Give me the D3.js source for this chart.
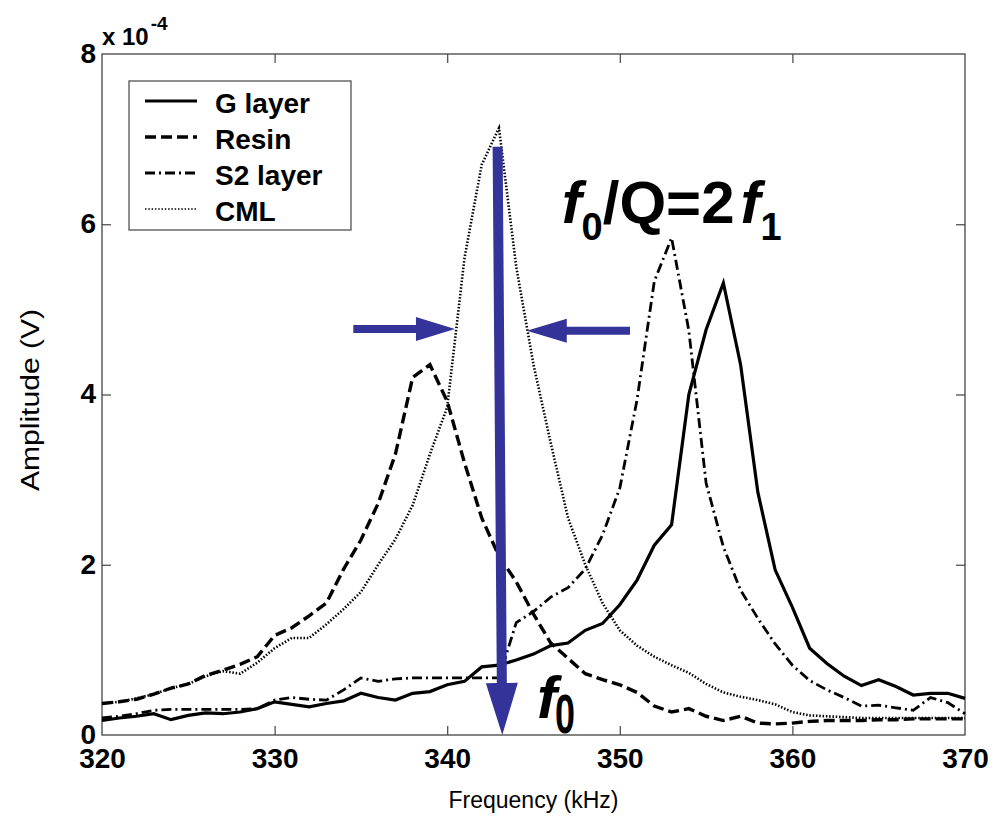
<!DOCTYPE html>
<html><head><meta charset="utf-8">
<script src="https://cdn.jsdelivr.net/npm/d3@7"></script>
<style>body{margin:0;background:#fff}svg{display:block}</style>
</head><body>
<svg id="chart" width="1001" height="819"></svg>
<script>
// ---- data (amplitude in units of 1e-4 V) ----
const freq = [320,321,322,323,324,325,326,327,328,329,330,331,332,333,334,335,336,337,338,339,340,341,342,343,344,345,346,347,348,349,350,351,352,353,354,355,356,357,358,359,360,361,362,363,364,365,366,367,368,369,370];
const gLayer = [0.17,0.20,0.22,0.25,0.18,0.23,0.26,0.25,0.27,0.31, 0.39,0.36,0.33,0.37,0.40,0.49,0.44,0.41,0.49,0.51, 0.59,0.63,0.80,0.82,0.88,0.95,1.05,1.08,1.23,1.31, 1.53,1.82,2.23,2.47,4.00,4.76,5.31,4.35,2.85,1.94, 1.50,1.02,0.84,0.69,0.58,0.65,0.57,0.47,0.49,0.49,0.43];
const resin = [0.37,0.39,0.42,0.48,0.55,0.60,0.70,0.76,0.83,0.92, 1.17,1.26,1.40,1.55,1.95,2.29,2.72,3.30,4.20,4.35, 3.92,3.20,2.55,2.10,1.80,1.42,1.08,0.90,0.72,0.65, 0.59,0.50,0.34,0.27,0.31,0.22,0.17,0.22,0.14,0.13, 0.14,0.16,0.17,0.17,0.17,0.18,0.18,0.19,0.19,0.19,0.19];
const s2Layer = [0.20,0.22,0.25,0.29,0.30,0.30,0.30,0.30,0.30,0.31, 0.41,0.44,0.42,0.41,0.53,0.67,0.63,0.66,0.67,0.67, 0.67,0.67,0.67,0.67,1.32,1.45,1.62,1.73,1.95,2.35, 2.90,3.94,5.33,5.84,4.75,2.96,2.21,1.70,1.37,1.07, 0.82,0.64,0.53,0.44,0.34,0.35,0.32,0.29,0.44,0.38,0.25];
const cml = [0.37,0.39,0.43,0.48,0.55,0.60,0.69,0.75,0.72,0.85, 1.02,1.14,1.14,1.30,1.48,1.68,2.00,2.30,2.70,3.30, 3.85,5.60,6.70,7.13,5.50,4.35,3.43,2.55,2.00,1.55, 1.23,1.05,0.92,0.82,0.73,0.60,0.50,0.45,0.41,0.36, 0.27,0.23,0.22,0.21,0.20,0.20,0.20,0.20,0.20,0.20,0.20];
const seriesNames = ["G layer","Resin","S2 layer","CML"];
const xTicks = [320,330,340,350,360,370];
const yTicks = [0,2,4,6,8];
// annotation anchors (data units)
const f0Arrow = {fTop:342.92, aTop:6.91, fTip:343.19, aTip:0};
const hwLeft = {f1:334.56, f2:340.45, a:4.77};
const hwRight = {f1:350.59, f2:344.61, a:4.75};

// ---- layout ----
const svg = d3.select("#chart");
const L=102, R=965, T=54, B=735;
const x = d3.scaleLinear().domain([320,370]).range([L,R]);
const y = d3.scaleLinear().domain([0,8]).range([B,T]);
const blue = "#333399";
const axisCol = "#444";
const font = "'Liberation Sans', Arial, Helvetica, sans-serif";

const styles = [
  {data:gLayer, dash:null, w:3.2},
  {data:resin, dash:"11,5", w:3.4},
  {data:s2Layer, dash:"10,4,2,4", w:2.8},
  {data:cml, dash:"1.5,1.8", w:2.6}
];

// axes box
svg.append("rect").attr("x",L).attr("y",T).attr("width",R-L).attr("height",B-T)
  .attr("fill","none").attr("stroke",axisCol).attr("stroke-width",1.3);

const xb = d3.axisBottom(x).tickValues(xTicks).tickSize(-9).tickPadding(6).tickFormat(d3.format("d"));
const gx = svg.append("g").attr("transform",`translate(0,${B})`).call(xb);
const xt = d3.axisTop(x).tickValues(xTicks).tickSize(-9).tickFormat("");
const gxt = svg.append("g").attr("transform",`translate(0,${T})`).call(xt);
const yl = d3.axisLeft(y).tickValues(yTicks).tickSize(-9).tickPadding(6).tickFormat(d3.format("d"));
const gy = svg.append("g").attr("transform",`translate(${L},0)`).call(yl);
const yr = d3.axisRight(y).tickValues(yTicks).tickSize(-9).tickFormat("");
const gyr = svg.append("g").attr("transform",`translate(${R},0)`).call(yr);
[gx,gxt,gy,gyr].forEach(g=>{
  g.select(".domain").remove();
  g.selectAll(".tick line").attr("stroke",axisCol).attr("stroke-width",1.2);
});
gx.selectAll(".tick text").attr("font-family",font).attr("font-weight","bold").attr("font-size",28).attr("fill","#000").attr("y",8).attr("dy","0.9em");
gy.selectAll(".tick text").attr("font-family",font).attr("font-weight","bold").attr("font-size",28).attr("fill","#000").attr("dy","0.3em").attr("x",-6);
gx.selectAll(".tick").filter(d=>d===320||d===370).select("line").remove();
gxt.selectAll(".tick").filter(d=>d===320||d===370).select("line").remove();
gy.selectAll(".tick").filter(d=>d===0||d===8).select("line").remove();
gyr.selectAll(".tick").filter(d=>d===0||d===8).select("line").remove();

// exponent label
const ex = svg.append("text").attr("x",L).attr("y",45).attr("font-family",font).attr("font-weight","bold").attr("font-size",24).attr("fill","#000");
ex.append("tspan").text("x 10");
ex.append("tspan").attr("font-size",19).attr("dy",-15).attr("dx",2).text("-4");

// axis titles
svg.append("text").attr("x",(L+R)/2).attr("y",808).attr("text-anchor","middle")
  .attr("font-family",font).attr("font-size",23).attr("fill","#000").text("Frequency (kHz)");
svg.append("text").attr("transform",`translate(39,400) rotate(-90)`).attr("text-anchor","middle")
  .attr("font-family",font).attr("font-size",25).attr("fill","#000")
  .attr("textLength",182).attr("lengthAdjust","spacingAndGlyphs").text("Amplitude (V)");

// series lines
const line = d3.line().x((d,i)=>x(freq[i])).y(d=>y(d));
styles.forEach(s=>{
  svg.append("path").datum(s.data).attr("d",line).attr("fill","none")
    .attr("stroke","#000").attr("stroke-width",s.w).attr("stroke-linejoin","miter")
    .attr("stroke-dasharray",s.dash);
});

// legend
const lg = svg.append("g");
lg.append("rect").attr("x",129).attr("y",81).attr("width",222).attr("height",149)
  .attr("fill","#fff").attr("stroke",axisCol).attr("stroke-width",1.2);
seriesNames.forEach((n,i)=>{
  const yy = 101 + i*36;
  lg.append("line").attr("x1",145).attr("x2",197).attr("y1",yy).attr("y2",yy)
    .attr("stroke","#000").attr("stroke-width",i===3?1.6:styles[i].w).attr("stroke-dasharray",styles[i].dash);
  lg.append("text").attr("x",215).attr("y",yy+12).attr("font-family",font).attr("font-weight","bold")
    .attr("font-size",28).attr("fill","#000").text(n);
});

// arrows
function arrow(x1,y1,x2,y2,sw,hw,hl){
  const dx=x2-x1, dy=y2-y1, len=Math.hypot(dx,dy), ux=dx/len, uy=dy/len, px=-uy, py=ux;
  const bx=x2-ux*hl, by=y2-uy*hl;
  const pts=[[x1+px*sw/2,y1+py*sw/2],[bx+px*sw/2,by+py*sw/2],[bx+px*hw/2,by+py*hw/2],[x2,y2],
    [bx-px*hw/2,by-py*hw/2],[bx-px*sw/2,by-py*sw/2],[x1-px*sw/2,y1-py*sw/2]];
  svg.append("path").attr("d","M"+pts.map(p=>p.join(",")).join("L")+"Z").attr("fill",blue);
}
arrow(x(f0Arrow.fTop),y(f0Arrow.aTop),x(f0Arrow.fTip),y(f0Arrow.aTip),10,32,52);
arrow(x(hwLeft.f1),y(hwLeft.a),x(hwLeft.f2),y(hwLeft.a),8,24,39);
arrow(x(hwRight.f1),y(hwRight.a),x(hwRight.f2),y(hwRight.a),8,24,40);

// annotation text f0/Q=2f1
const t1 = svg.append("text").attr("x",x(346.63)).attr("y",y(6.02)).attr("font-family",font)
  .attr("font-weight","bold").attr("font-size",60).attr("fill","#000");
t1.append("tspan").attr("font-style","italic").text("f");
t1.append("tspan").attr("font-size",38).attr("dy",17).text("0");
t1.append("tspan").attr("dy",-17).text("/Q=2");
t1.append("tspan").attr("font-style","italic").attr("dx",6).text("f");
t1.append("tspan").attr("font-size",38).attr("dy",17).text("1");

// f0 near arrow
svg.append("text").attr("x",x(345.2)).attr("y",y(0.2)).attr("font-family",font)
  .attr("font-weight","bold").attr("font-style","italic").attr("font-size",60).attr("fill","#000").text("f");
svg.append("text").attr("x",555).attr("y",733).attr("font-family",font)
  .attr("font-weight","bold").attr("font-size",55).attr("fill","#000")
  .attr("textLength",20).attr("lengthAdjust","spacingAndGlyphs").text("0");
</script>
</body></html>
